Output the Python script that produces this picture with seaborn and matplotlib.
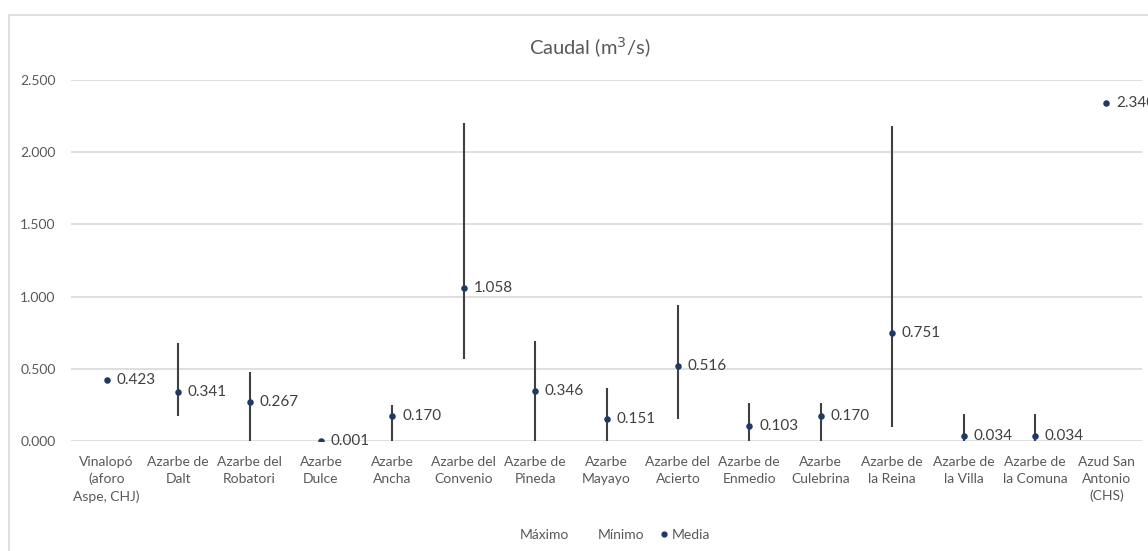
import matplotlib
matplotlib.use("Agg")
import matplotlib.pyplot as plt
from matplotlib.lines import Line2D
from matplotlib.patches import Rectangle
from matplotlib.ticker import FuncFormatter, MultipleLocator
import seaborn as sns
import pandas as pd
import numpy as np

# Caudales por punto de control (m3/s)
estaciones = [
    "Vinalopó\n(aforo\nAspe, CHJ)", "Azarbe de\nDalt", "Azarbe del\nRobatori",
    "Azarbe\nDulce", "Azarbe\nAncha", "Azarbe del\nConvenio", "Azarbe de\nPineda",
    "Azarbe\nMayayo", "Azarbe del\nAcierto", "Azarbe de\nEnmedio", "Azarbe\nCulebrina",
    "Azarbe de\nla Reina", "Azarbe de\nla Villa", "Azarbe de\nla Comuna",
    "Azud San\nAntonio\n(CHS)",
]
maximo = [np.nan, 0.68, 0.48, np.nan, 0.25, 2.20, 0.69, 0.37, 0.94, 0.26, 0.26, 2.18, 0.19, 0.19, np.nan]
minimo = [np.nan, 0.175, 0.0, np.nan, 0.0, 0.565, 0.0, 0.0, 0.155, 0.0, 0.0, 0.10, 0.0, 0.0, np.nan]
media = [0.423, 0.341, 0.267, 0.001, 0.170, 1.058, 0.346, 0.151, 0.516, 0.103, 0.170, 0.751, 0.034, 0.034, 2.340]

df = pd.DataFrame({"estacion": estaciones, "maximo": maximo, "minimo": minimo, "media": media})
df["pos"] = np.arange(len(df))

sns.set_theme(style="white")
plt.rcParams["font.family"] = ["Lato", "DejaVu Sans"]

TXT = "#595959"
GRID = "#D9D9D9"
LINE = "#404040"
DOT = "#1F3864"

fig = plt.figure(figsize=(11.48, 5.51), dpi=100)
ax = fig.add_axes([71 / 1148, 1 - 441 / 551, (1142 - 71) / 1148, (441 - 80) / 551])

# líneas máximo-mínimo
rng = df.dropna(subset=["maximo", "minimo"])
ax.vlines(rng["pos"], rng["minimo"], rng["maximo"], color=LINE, linewidth=1.5, zorder=3)

# medias
sns.scatterplot(data=df, x="pos", y="media", ax=ax, color=DOT, s=22,
                edgecolor=DOT, linewidth=0, zorder=4, legend=False)

for x, v in zip(df["pos"], df["media"]):
    ax.annotate(f"{v:.3f}", (x, v), xytext=(7, 0), textcoords="offset points",
                ha="left", va="center", fontsize=11, color=LINE,
                annotation_clip=False, zorder=5)

ax.set_xlim(-0.5, len(df) - 0.5)
ax.set_ylim(0, 2.5)
ax.yaxis.set_major_locator(MultipleLocator(0.5))
ax.yaxis.set_major_formatter(FuncFormatter(lambda v, p: f"{v:.3f}"))
ax.set_xticks(df["pos"])
ax.set_xticklabels(df["estacion"], fontsize=10, color=TXT, linespacing=1.5)
ax.tick_params(axis="y", labelsize=10, labelcolor=TXT, length=0, pad=11)
ax.tick_params(axis="x", length=0, pad=10.5)
ax.grid(axis="y", color=GRID, linewidth=1.2)
ax.set_axisbelow(True)
for s in ["top", "right", "left", "bottom"]:
    ax.spines[s].set_visible(False)
ax.set_xlabel("")
ax.set_ylabel("")

fig.text(0.514, 1 - 48 / 551, r"Caudal (m$^3$/s)", ha="center", va="center",
         fontsize=14.5, color=TXT)

handles = [
    Line2D([], [], linestyle="none", marker=None),
    Line2D([], [], linestyle="none", marker=None),
    Line2D([], [], linestyle="none", marker="o", markersize=3.5, color=DOT),
]
fig.legend(handles, ["Máximo", "Mínimo", "Media"], loc="center",
           bbox_to_anchor=(0.531, 1 - 535 / 551), ncol=3, frameon=False,
           fontsize=10, labelcolor=TXT, handlelength=0.5, handletextpad=0.3,
           columnspacing=1.2)

# marco del gráfico
fig.patches.append(Rectangle((8.5 / 1148, -0.05), 1.1, 1 - 15.5 / 551 + 0.05,
                             transform=fig.transFigure, fill=False,
                             edgecolor=GRID, linewidth=1.2))

fig.savefig("out.png", dpi=100)
